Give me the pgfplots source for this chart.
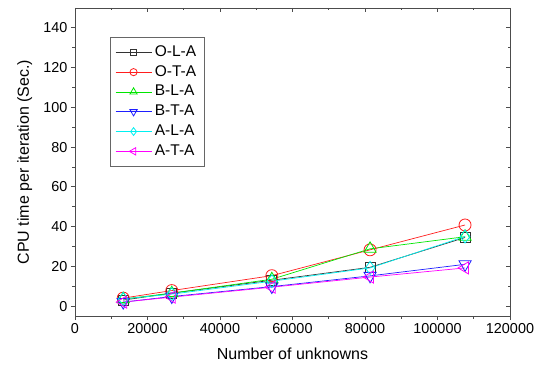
\documentclass[border=0pt]{standalone}
\usepackage{pgfplots}
\pgfplotsset{compat=1.18}
\usepackage{fontspec}
\setmainfont{Liberation Sans}
\definecolor{colG}{RGB}{0,230,0}
\definecolor{colC}{RGB}{0,240,240}
\definecolor{colM}{RGB}{255,0,255}
\definecolor{colB}{RGB}{30,30,255}
\definecolor{colR}{RGB}{255,30,30}
\begin{document}
\begin{tikzpicture}
\useasboundingbox (-75pt,-48pt) rectangle (468pt,316pt);
\pgfplotsset{
  common/.style={
    scale only axis, width=435pt, height=308pt,
    xmin=0, xmax=120000, ymin=-5, ymax=150,
    xtick={0,20000,40000,60000,80000,100000,120000}, ytick={0,20,...,140},
    minor x tick num=1, minor y tick num=1,
    axis line style={black!70, line width=0.8pt},
    every tick/.style={black!70, line width=0.8pt},
    major tick length=4pt, minor tick length=2.5pt,
    scaled x ticks=false, scaled y ticks=false,
    tick label style={font=\fontsize{14.4}{16}\selectfont},
    label style={font=\fontsize{16}{18}\selectfont},
  }
}
\begin{axis}[common,
  tick align=outside, xtick pos=left, ytick pos=left,
  xticklabels={0,20000,40000,60000,80000,100000,120000},
  yticklabels={0,20,40,60,80,100,120,140},
  xlabel={Number of unknowns},
  ylabel={CPU time per iteration (Sec.)},
  xlabel style={at={([yshift=-43pt]axis description cs:0.5,0)}, anchor=base},
  ylabel style={at={([xshift=-46pt]axis description cs:0,0.5)}, anchor=base},
  legend style={at={(axis description cs:0.08,0.906)}, anchor=north west,
    draw=black!60, line width=0.8pt, font=\fontsize{15.5}{17}\selectfont,
    row sep=3.8pt, inner xsep=5pt, inner ysep=7pt,
    nodes={inner ysep=1pt, inner xsep=3pt, text height=11pt, text depth=3pt}},
  legend cell align=left,
  legend image code/.code={\draw[mark repeat=2,mark phase=2,#1,every mark/.append style={scale=0.6}] plot coordinates {(0pt,0pt) (18pt,0pt) (36pt,0pt)};},
  every axis plot/.append style={line width=0.7pt, mark size=6pt},
]
\addplot[black!80, mark=square, mark size=5pt, mark options={solid, line width=0.8pt}] coordinates {(13300,3) (26700,6.5) (54300,13) (81400,19.5) (107600,34.5)};
\addlegendentry{O-L-A}
\addplot[colR, mark=o, mark options={solid, line width=0.8pt}] coordinates {(13300,4) (26700,7.8) (54300,15.3) (81400,28.3) (107600,40.8)};
\addlegendentry{O-T-A}
\addplot[colG, mark=triangle, mark size=7pt, mark options={solid, line width=0.8pt}] coordinates {(13300,3.5) (26700,6.5) (54300,13.5) (81400,28.8) (107600,34.9)};
\addlegendentry{B-L-A}
\addplot[colB, mark=triangle, mark size=7pt, mark options={solid, line width=0.8pt, rotate=180}] coordinates {(13300,2) (26700,4.8) (54300,9.8) (81400,15.2) (107600,21)};
\addlegendentry{B-T-A}
\addplot[colC, mark=diamond, mark size=6.5pt, mark options={solid, line width=0.8pt}] coordinates {(13300,3.6) (26700,6) (54300,12.5) (81400,19.2) (107600,35)};
\addlegendentry{A-L-A}
\addplot[colM, mark=triangle, mark size=7pt, mark options={solid, line width=0.8pt, rotate=90}] coordinates {(13300,2) (26700,4.5) (54300,9.5) (81400,14.6) (107600,19.2)};
\addlegendentry{A-T-A}
\end{axis}
\begin{axis}[common,
  tick align=inside, xtick pos=right, ytick pos=right,
  xticklabels={}, yticklabels={}, axis line style={draw=none}]
\end{axis}
\end{tikzpicture}
\end{document}
